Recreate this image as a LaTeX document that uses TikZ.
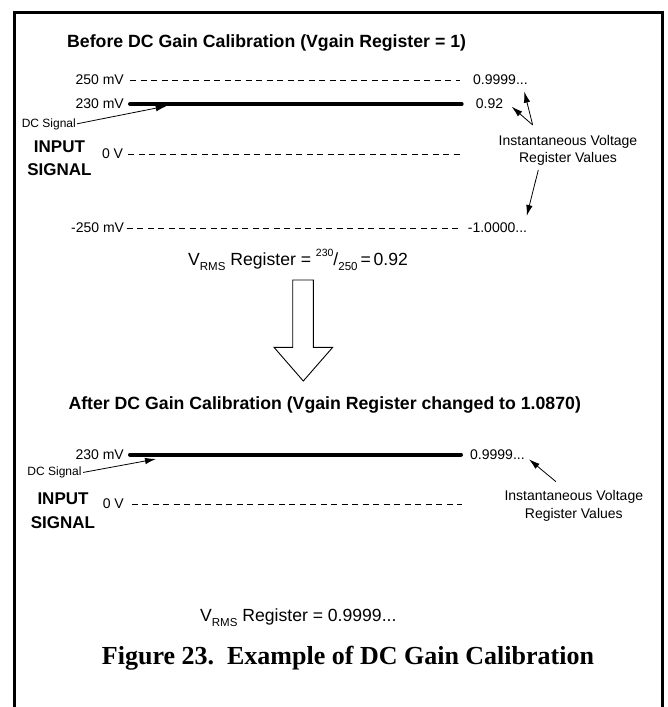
\documentclass[tikz,border=0pt]{standalone}
\usepackage{fontspec}
\setmainfont{Liberation Sans}
\newfontfamily\capfont{Liberation Serif}
\usetikzlibrary{positioning,arrows.meta}

% small raised / lowered text for the register formula
\newcommand{\subtxt}[1]{\raisebox{-0.55ex}{\fontsize{11.5}{12}\selectfont #1}}
\newcommand{\suptxt}[1]{\raisebox{0.9ex}{\fontsize{10.5}{12}\selectfont #1}}

\begin{document}
\begin{tikzpicture}[
    x=1pt, y=-1pt,
    lbl/.style={inner sep=0pt, font=\fontsize{14}{16}\selectfont},
    small/.style={inner sep=0pt, font=\fontsize{12}{14}\selectfont},
    head/.style={inner sep=0pt, anchor=base west,
      font=\fontsize{17.7}{21}\selectfont\bfseries},
    side/.style={inner sep=0pt, align=center,
      font=\fontsize{17}{23.5}\selectfont\bfseries},
    note/.style={inner sep=0pt, align=center,
      font=\fontsize{14}{17.3}\selectfont},
    eqn/.style={inner sep=0pt, anchor=base west,
      font=\fontsize{17.6}{21}\selectfont},
    refline/.style={line width=0.8pt, dash pattern=on 6pt off 4.5pt},
    sigline/.style={line width=4pt, line cap=round},
    call/.style={-{Latex[length=11pt,width=6.5pt]}, line width=0.8pt},
    bigarrow/.style={draw, line width=0.9pt, fill=white}
  ]

  \useasboundingbox (0,0) rectangle (667,707);
  % outer frame (open at the bottom)
  \draw[line width=3pt] (14.5,710) -- (14.5,12.5) -- (662.5,12.5) -- (662.5,710);

  % ---- before calibration ----
  \node[head] (titleA) at (67,47.3) {Before DC Gain Calibration (Vgain Register = 1)};

  \node[lbl, anchor=east] (lvA250) at (124,80) {250 mV};
  \node[lbl, anchor=east] (lvA230) at (124,104) {230 mV};
  \node[lbl, anchor=east] (lvA0) at (123.3,154) {0 V};
  \node[lbl, anchor=east] (lvAm250) at (124.3,228) {-250 mV};

  \node[lbl, anchor=west] (rvA250) at (473,80) {0.9999...};
  \node[lbl, anchor=west] (rvA230) at (475.7,104) {0.92};
  \node[lbl, anchor=west] (rvAm250) at (467.7,228) {-1.0000...};
  \coordinate (endA0) at (460,154);

  \node[small, anchor=east] (dcA) at (76,124) {DC Signal};
  \node[side] (inA) at (59.5,158) {INPUT\\SIGNAL};
  \node[note] (ivA) at (568,150.5) {Instantaneous Voltage\\Register Values};

  \draw[refline, shorten <=6pt, shorten >=13pt] (lvA250.east) -- (rvA250.west);
  \draw[sigline, shorten <=6pt, shorten >=14pt] (lvA230.east) -- (rvA230.west);
  \draw[refline, shorten <=4.7pt] (lvA0.east) -- (endA0);
  \draw[refline, shorten <=2.4pt, shorten >=7.7pt] (lvAm250.east) -- (rvAm250.west);

  % callouts
  \coordinate (dcTipA) at (166.7,106);
  \coordinate (ivTopA) at (532.7,125);
  \coordinate (ivBotA) at (538.3,170);
  \coordinate (tipA92) at (511.7,106.7);
  \coordinate (tipA99) at (524.3,91.7);
  \coordinate (tipAm) at (526.7,216);
  \draw[call, shorten <=1pt] (dcA.east) -- (dcTipA);
  \draw[call] (ivTopA) -- (tipA92);
  \draw[call] (ivTopA) -- (tipA99);
  \draw[call] (ivBotA) -- (tipAm);

  \node[eqn] (rmsA) at (188,265)
    {V\subtxt{RMS} Register = \suptxt{230}/\subtxt{250}\,=\,0.92};

  % hollow block arrow
  \draw[bigarrow] (292.7,280) -- (313.3,280) -- (313.3,347.3) -- (332.7,347.3)
    -- (303.3,381) -- (274,347.3) -- (292.7,347.3) -- cycle;

  % ---- after calibration ----
  \node[head] (titleB) at (68.3,409.3) {After DC Gain Calibration (Vgain Register changed to 1.0870)};

  \node[lbl, anchor=east] (lvB230) at (124,454.5) {230 mV};
  \node[lbl, anchor=east] (lvB0) at (124,504) {0 V};
  \node[lbl, anchor=west] (rvB230) at (470,454.5) {0.9999...};
  \coordinate (endB0) at (461.7,504);

  \node[small, anchor=east] (dcB) at (81.7,472.7) {DC Signal};
  \node[side] (inB) at (63,510.5) {INPUT\\SIGNAL};
  \node[note] (ivB) at (573.8,506) {Instantaneous Voltage\\Register Values};

  \draw[sigline, shorten <=6pt, shorten >=9pt] (lvB230.east) -- (rvB230.west);
  \draw[refline, shorten <=7.7pt] (lvB0.east) -- (endB0);

  \coordinate (dcTipB) at (156,459);
  \coordinate (ivTopB) at (556,481.7);
  \coordinate (tipB99) at (529,459.3);
  \draw[call, shorten <=1.5pt] (dcB.east) -- (dcTipB);
  \draw[call] (ivTopB) -- (tipB99);

  \node[eqn] (rmsB) at (200,621.7) {V\subtxt{RMS} Register = 0.9999...};

  % figure caption
  \node[inner sep=0pt, anchor=base, font=\capfont\fontsize{26}{30}\selectfont\bfseries]
    (caption) at (348,664.3) {Figure 23.\ \ Example of DC Gain Calibration};

\end{tikzpicture}
\end{document}
